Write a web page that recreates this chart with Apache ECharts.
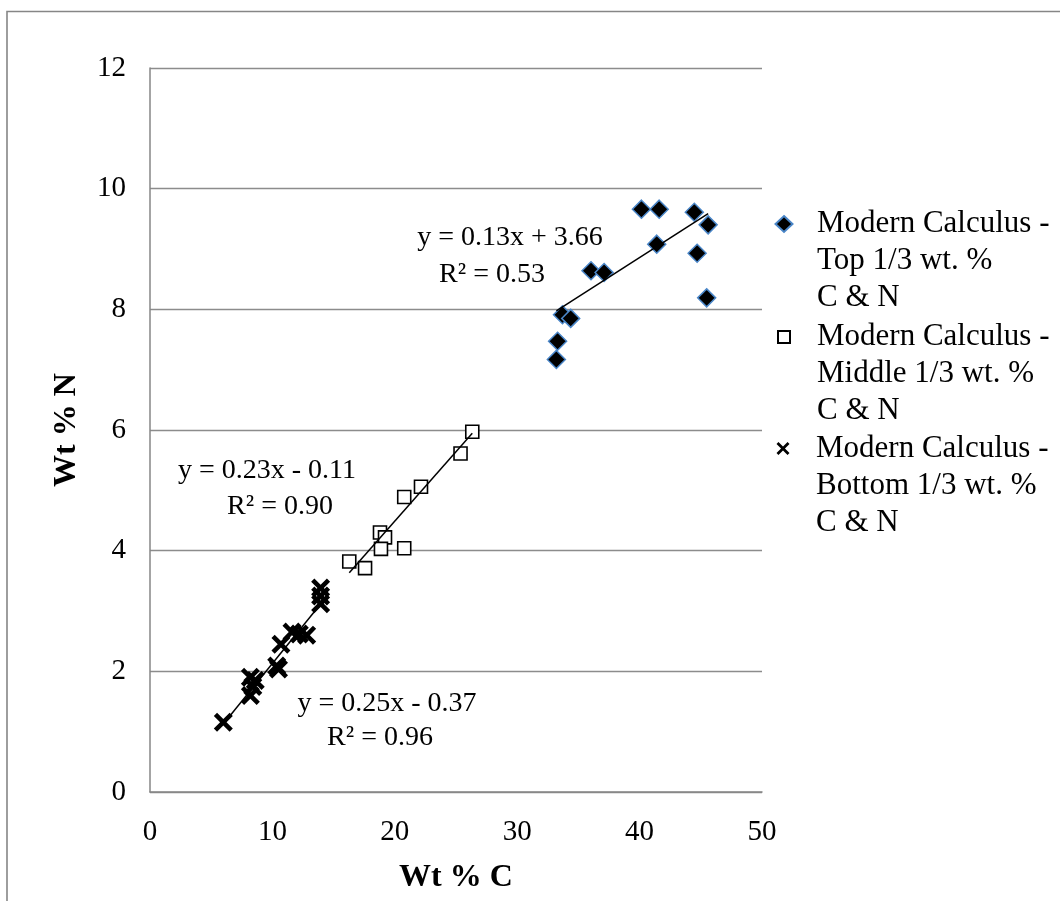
<!DOCTYPE html>
<html>
<head>
<meta charset="utf-8">
<title>Wt % N vs Wt % C</title>
<script src="https://cdn.jsdelivr.net/npm/echarts@6/dist/echarts.min.js"></script>
<style>
  html, body { margin: 0; padding: 0; background: #ffffff; }
  #chart { width: 1060px; height: 901px; }
</style>
</head>
<body>
<div id="chart"></div>
<script>
// Wt % C / Wt % N readings for each third of the calculus samples
const seriesNames = [
  'Modern Calculus -\nTop 1/3 wt. %\nC & N',
  'Modern Calculus -\nMiddle 1/3 wt. %\nC & N',
  'Modern Calculus -\nBottom 1/3 wt. %\nC & N'
];

const topC = [40.15, 41.6, 44.47, 45.6, 41.4, 44.7, 36.03, 37.1, 45.48, 33.7, 34.37, 33.3, 33.2];
const topN = [9.66, 9.66, 9.61, 9.40, 9.08, 8.93, 8.64, 8.61, 8.19, 7.91, 7.85, 7.47, 7.17];

const midC = [26.33, 25.37, 22.14, 20.77, 18.79, 19.2, 18.87, 20.77, 16.28, 17.57];
const midN = [5.97, 5.61, 5.06, 4.89, 4.30, 4.22, 4.03, 4.04, 3.82, 3.71];

const botC = [5.99, 8.2, 8.4, 8.2, 8.6, 10.35, 10.5, 10.7, 11.6, 12.2, 12.8, 13.94, 13.94, 13.94];
const botN = [1.155, 1.9, 1.75, 1.6, 1.85, 2.09, 2.04, 2.45, 2.65, 2.62, 2.6, 3.38, 3.25, 3.12];

// Linear trendline coefficients (slope, intercept) and R² per series
const trendSlopes = [0.13, 0.23, 0.25];
const trendIntercepts = [3.66, -0.11, -0.37];
const trendR2 = ['0.53', '0.90', '0.96'];

// Axis ticks
const xTicks = [0, 10, 20, 30, 40, 50];
const yTicks = [0, 2, 4, 6, 8, 10, 12];

const FONT = '"Liberation Serif", "Times New Roman", serif';

const zip = (xs, ys) => xs.map((x, i) => [x, ys[i]]);
const seriesC = [topC, midC, botC];
const seriesN = [topN, midN, botN];

// Trendline spanning each series' C range
function trendPoints(i) {
  const xs = seriesC[i];
  const x0 = Math.min(...xs), x1 = Math.max(...xs);
  const m = trendSlopes[i], b = trendIntercepts[i];
  return [[x0, m * x0 + b], [x1, m * x1 + b]];
}
function fmtSigned(v) {
  return (v < 0 ? '- ' : '+ ') + Math.abs(v).toFixed(2);
}
function eqText(i) {
  return 'y = ' + trendSlopes[i].toFixed(2) + 'x ' + fmtSigned(trendIntercepts[i]);
}

const crossPath = 'path://M0,1.7L1.7,0L5,3.3L8.3,0L10,1.7L6.7,5L10,8.3L8.3,10L5,6.7L1.7,10L0,8.3L3.3,5Z';
const crossPathLegend = 'path://M0,1.5L1.5,0L5,3.5L8.5,0L10,1.5L6.5,5L10,8.5L8.5,10L5,6.5L1.5,10L0,8.5L3.5,5Z';

const markerStyles = [
  { symbol: 'diamond', symbolSize: [18, 18], itemStyle: { color: '#000000', borderColor: '#4a86c8', borderWidth: 1.5, opacity: 1 } },
  { symbol: 'rect', symbolSize: 13, itemStyle: { color: '#ffffff', borderColor: '#000000', borderWidth: 1.6, opacity: 1 } },
  { symbol: crossPath, symbolSize: 19, itemStyle: { color: '#000000', opacity: 1 } }
];

const scatterSeries = [0, 1, 2].map(i => Object.assign({
  name: seriesNames[i],
  type: 'scatter',
  data: zip(seriesC[i], seriesN[i]),
  z: 2
}, markerStyles[i]));

const trendSeries = [0, 1, 2].map(i => ({
  name: 'trend' + i,
  type: 'line',
  data: trendPoints(i),
  showSymbol: false,
  symbol: 'none',
  silent: true,
  lineStyle: { color: '#000000', width: 1.5 },
  z: 3
}));

// Legend: one block per series; two leading blank lines put the marker
// beside the first line of the three-line label
const legendIcons = ['diamond', 'rect', crossPathLegend];
const legendSizes = [[17, 16], [12, 12], [13, 13]];
const legendTops = [132, 243, 355];
const legends = [0, 1, 2].map(i => ({
  data: [{ name: seriesNames[i], icon: legendIcons[i] }],
  orient: 'vertical',
  left: 783 - legendSizes[i][0] / 2,
  top: legendTops[i] + (15 - legendSizes[i][1]) / 2,
  padding: 0,
  itemWidth: legendSizes[i][0],
  itemHeight: legendSizes[i][1],
  itemGap: 0,
  selectedMode: false,
  itemStyle: { opacity: 1 },
  formatter: name => '\n\n' + name,
  textStyle: {
    fontFamily: FONT,
    fontSize: 31,
    lineHeight: 37,
    color: '#000000',
    padding: [0, 0, 0, 816 - (783 + legendSizes[i][0] / 2) - 5]
  }
}));

// Trendline equation labels
const eqLayout = [
  { eq: [510, 238], r2: [492, 275] },
  { eq: [267, 471], r2: [280, 507] },
  { eq: [387, 704], r2: [380, 738] }
];
const eqGraphics = [];
eqLayout.forEach((p, i) => {
  eqGraphics.push({
    type: 'text', x: p.eq[0], y: p.eq[1], z: 10,
    style: { text: eqText(i), fill: '#000', font: '28px ' + FONT, align: 'center', verticalAlign: 'middle' }
  });
  eqGraphics.push({
    type: 'text', x: p.r2[0], y: p.r2[1], z: 10,
    style: { text: 'R² = ' + trendR2[i], fill: '#000', font: '28px ' + FONT, align: 'center', verticalAlign: 'middle' }
  });
});

const chart = echarts.init(document.getElementById('chart'), null, { renderer: 'canvas' });

chart.setOption({
  backgroundColor: '#ffffff',
  animation: false,
  textStyle: { fontFamily: FONT },
  grid: { left: 150, right: 298, top: 68, bottom: 109, containLabel: false },
  xAxis: {
    type: 'value',
    min: xTicks[0],
    max: xTicks[xTicks.length - 1],
    interval: 10,
    name: 'Wt % C',
    nameLocation: 'middle',
    nameGap: 70,
    nameTextStyle: { fontFamily: FONT, fontSize: 32, fontWeight: 'bold', color: '#000' },
    axisLine: { show: true, lineStyle: { color: '#868686', width: 1.5 } },
    axisTick: { show: false },
    splitLine: { show: false },
    axisLabel: { fontFamily: FONT, fontSize: 29, color: '#000', margin: 26 }
  },
  yAxis: {
    type: 'value',
    min: yTicks[0],
    max: yTicks[yTicks.length - 1],
    interval: 2,
    name: 'Wt % N',
    nameLocation: 'middle',
    nameGap: 67,
    nameRotate: 90,
    nameTextStyle: { fontFamily: FONT, fontSize: 32, fontWeight: 'bold', color: '#000' },
    axisLine: { show: true, lineStyle: { color: '#868686', width: 1.5 } },
    axisTick: { show: false },
    splitLine: { show: true, lineStyle: { color: '#8c8c8c', width: 1.3 } },
    axisLabel: { fontFamily: FONT, fontSize: 29, color: '#000', margin: 24 }
  },
  legend: legends,
  series: scatterSeries.concat(trendSeries),
  graphic: [
    {
      type: 'rect', z: -1, silent: true,
      shape: { x: 7, y: 11.5, width: 1200, height: 1000 },
      style: { fill: 'none', stroke: '#868686', lineWidth: 1.6 }
    }
  ].concat(eqGraphics)
});
</script>
</body>
</html>
